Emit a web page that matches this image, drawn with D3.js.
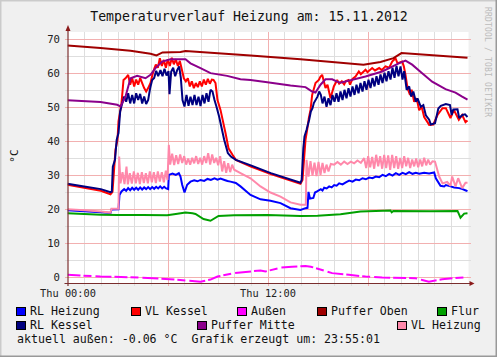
<!DOCTYPE html>
<html><head><meta charset="utf-8">
<script src="https://cdn.jsdelivr.net/npm/d3@7/dist/d3.min.js"></script>
<style>
body{margin:0;background:#F0F0F0}
svg{display:block}
text{font-family:"DejaVu Sans Mono",monospace;white-space:pre}
</style>
</head><body>
<svg id="c" width="497" height="357"></svg>
<script>
// ---------------- data ----------------
const title = "Temperaturverlauf Heizung am: 15.11.2012";
const yLabel = "°C";
const yTicks = [0, 10, 20, 30, 40, 50, 60, 70];
const xTickHours = [0, 12];
const xTickLabels = ["Thu 00:00", "Thu 12:00"];
const footer = "aktuell außen: -0.06 °C  Grafik erzeugt um: 23:55:01";
const watermark = "RRDTOOL / TOBI OETIKER";

const seriesNames = ["RL Heizung", "VL Kessel", "Außen", "Puffer Oben", "Flur", "RL Kessel", "Puffer Mitte", "VL Heizung"];

// [hour, °C]
const rlHeizung = [[0,19.6],[1,19.3],[2,19.0],[2.58,18.8],[2.64,19.8],[3.06,19.9],[3.12,24.1],[3.24,25.1],[3.4,25.8],[3.52,25.3],[3.64,26.1],[3.76,25.5],[3.88,26.2],[4.0,25.6],[4.12,26.2],[4.24,25.6],[4.36,26.3],[4.48,25.7],[4.6,26.3],[4.72,25.8],[4.84,26.4],[4.96,25.8],[5.08,26.4],[5.2,25.9],[5.32,26.5],[5.44,26.0],[5.56,26.6],[5.68,26.0],[5.8,26.5],[5.92,26.0],[6.04,25.8],[6.08,30.0],[6.3,30.4],[6.5,30.0],[6.68,30.5],[6.78,29.5],[6.88,27.1],[7.02,24.8],[7.18,27.1],[7.38,28.0],[7.6,28.4],[7.8,28.1],[7.98,28.5],[8.2,28.2],[8.4,28.8],[8.6,28.5],[8.82,29.0],[9.0,28.6],[9.18,28.9],[9.42,28.5],[9.6,28.2],[9.78,28.0],[10.1,27.6],[10.38,26.6],[10.98,24.1],[11.58,22.8],[12.18,22.4],[12.78,21.7],[13.38,20.2],[13.98,19.7],[14.28,20.2],[14.4,20.3],[14.46,25.0],[14.55,23.0],[14.75,23.2],[14.85,24.8],[15.0,25.2],[15.2,25.8],[15.3,25.4],[15.4,26.2],[15.55,26.0],[15.7,26.6],[15.85,26.3],[16.0,27.0],[16.15,26.8],[16.3,27.5],[16.5,27.2],[16.7,27.8],[16.9,28.3],[17.1,28.0],[17.3,28.6],[17.5,28.4],[17.7,29.0],[17.9,28.7],[18.1,29.2],[18.3,29.0],[18.5,29.5],[18.7,29.3],[18.9,30.0],[19.1,29.6],[19.3,30.3],[19.5,29.8],[19.7,30.5],[19.9,30.0],[20.1,30.6],[20.3,30.2],[20.5,30.8],[20.7,30.3],[20.9,30.6],[21.1,30.3],[21.4,30.6],[21.7,30.4],[22.0,30.7],[22.1,29.0],[22.38,26.8],[22.6,26.6],[22.7,27.0],[22.98,26.6],[23.2,26.3],[23.5,26.1],[23.7,25.8],[23.9,25.4],[24,25.2]];

const vlKessel = [[0,27.1],[1,26.2],[2,25.3],[2.58,24.3],[2.7,25.0],[2.88,37.4],[3.0,40.3],[3.06,45.7],[3.24,51.1],[3.36,57.9],[3.48,58.4],[3.64,59.4],[3.76,56.5],[3.88,58.5],[4.0,56.0],[4.12,58.0],[4.24,56.5],[4.36,58.5],[4.48,57.0],[4.6,55.5],[4.72,54.5],[4.84,55.5],[4.98,57.0],[5.1,59.5],[5.22,61.4],[5.3,62.4],[5.42,61.5],[5.54,64.3],[5.66,62.0],[5.78,63.8],[5.9,61.5],[6.02,64.0],[6.14,62.0],[6.26,64.4],[6.38,62.5],[6.5,64.0],[6.62,62.0],[6.74,63.5],[6.86,61.0],[6.98,58.4],[7.1,57.5],[7.22,58.4],[7.34,56.0],[7.46,57.5],[7.58,55.5],[7.7,57.0],[7.82,55.8],[7.94,57.5],[8.06,56.0],[8.18,58.0],[8.3,56.5],[8.42,58.2],[8.54,56.8],[8.66,58.0],[8.76,57.9],[8.88,57.0],[9.0,52.0],[9.18,49.1],[9.48,42.3],[9.66,37.8],[9.9,35.9],[10.1,34.4],[11,32.4],[12.2,30.2],[13.98,27.4],[14.1,28.5],[14.28,40.3],[14.38,43.2],[14.48,46.7],[14.58,49.1],[14.68,53.5],[14.88,57.0],[15.08,57.9],[15.18,58.9],[15.28,59.4],[15.48,55.5],[15.6,56.5],[15.78,52.5],[15.98,56.0],[16.18,57.9],[16.3,56.8],[16.46,57.5],[16.6,56.6],[16.7,57.6],[16.86,57.9],[16.95,56.5],[17.1,58.2],[17.28,58.9],[17.48,60.4],[17.6,59.6],[17.88,60.9],[18.0,60.2],[18.28,61.4],[18.45,60.7],[18.7,61.4],[18.85,60.8],[19.08,61.9],[19.3,61.5],[19.48,63.3],[19.68,64.3],[19.8,62.8],[19.9,63.0],[20.08,63.3],[20.18,61.9],[20.28,59.4],[20.4,55.5],[20.55,53.5],[20.65,55.0],[20.8,51.5],[20.95,52.5],[21.1,49.0],[21.25,50.0],[21.4,47.0],[21.6,45.5],[21.7,44.7],[21.95,44.8],[22.2,47.6],[22.5,49.6],[22.7,49.6],[22.98,46.7],[23.18,49.1],[23.48,46.2],[23.68,47.6],[23.88,45.5],[24,46.0]];

const aussen = [[0,0.6],[1.98,0.1],[3.78,-0.1],[5.88,-0.6],[7.98,-1.4],[8.58,-0.8],[9.0,0.1],[9.98,1.1],[11.58,1.9],[11.88,1.6],[12.78,2.7],[13.48,3.0],[14.28,3.2],[14.6,3.0],[15.88,1.1],[16.88,0.6],[17.88,0.1],[18.88,-0.2],[20.88,-0.4],[21.28,-0.9],[21.68,-1.4],[22.48,-0.7],[23.88,-0.1],[24,-0.1]];

const pufferOben = [[0,68.0],[1.98,67.3],[3.78,66.5],[4.98,65.6],[5.34,65.1],[5.7,66.0],[6.78,66.1],[7.08,66.4],[10.98,65.1],[13.98,64.0],[17.76,62.4],[18.78,63.2],[19.56,64.3],[20.04,65.8],[24,64.4]];

const flur = [[0,18.7],[1,18.5],[2,18.3],[3,18.2],[4.5,18.2],[5.98,18.1],[6.5,18.5],[7.08,18.9],[7.5,18.7],[7.68,18.5],[8.16,17.0],[8.58,16.5],[9.06,17.9],[10,18.1],[12,18.2],[13.98,17.9],[15,18.0],[16.38,18.4],[17.58,19.2],[19.38,19.5],[19.45,19.0],[19.55,19.4],[21.78,19.3],[23.4,19.4],[23.58,17.4],[23.8,18.6],[24,18.7]];

const rlKessel = [[0,27.4],[1,26.6],[2,25.8],[2.58,24.9],[2.66,25.1],[2.72,32.4],[2.85,34.4],[2.95,40.3],[3.06,42.3],[3.16,48.6],[3.26,50.6],[3.4,53.0],[3.52,51.5],[3.64,54.0],[3.76,51.0],[3.88,53.5],[4.0,51.0],[4.12,54.0],[4.24,52.0],[4.36,53.8],[4.48,51.0],[4.6,53.0],[4.72,50.8],[4.84,52.0],[4.96,55.5],[5.08,57.9],[5.2,58.5],[5.32,60.6],[5.44,59.0],[5.58,60.8],[5.7,59.0],[5.82,61.2],[5.94,59.2],[6.06,60.5],[6.12,53.7],[6.22,60.3],[6.34,61.5],[6.46,59.0],[6.58,60.8],[6.7,61.9],[6.8,58.5],[6.9,52.0],[7.02,50.1],[7.14,53.5],[7.26,50.3],[7.38,53.0],[7.5,50.5],[7.62,53.5],[7.74,50.5],[7.86,53.0],[7.98,50.2],[8.1,53.5],[8.22,51.0],[8.34,54.0],[8.46,51.5],[8.58,55.0],[8.7,54.5],[8.82,52.0],[8.94,50.0],[9.1,47.1],[9.4,40.3],[9.62,36.4],[9.8,35.4],[10.1,34.4],[11,32.8],[12.2,30.5],[13.98,27.7],[14.05,28.5],[14.15,37.8],[14.22,41.3],[14.34,43.2],[14.5,46.2],[14.6,48.6],[14.7,49.6],[14.78,51.1],[15.0,53.0],[15.1,54.5],[15.2,53.5],[15.3,51.0],[15.42,53.0],[15.54,50.0],[15.66,52.5],[15.78,50.5],[15.9,53.5],[16.02,51.5],[16.14,54.0],[16.26,51.5],[16.38,54.5],[16.5,52.0],[16.62,55.0],[16.74,52.5],[16.86,55.5],[16.98,53.0],[17.1,56.0],[17.22,53.5],[17.34,56.5],[17.46,54.0],[17.58,57.0],[17.7,54.5],[17.82,57.5],[17.94,55.0],[18.06,58.0],[18.18,55.5],[18.3,58.5],[18.42,56.0],[18.54,59.0],[18.66,56.5],[18.78,59.5],[18.9,57.0],[19.02,60.0],[19.14,57.5],[19.26,60.5],[19.38,58.0],[19.5,61.5],[19.62,58.5],[19.74,62.0],[19.86,59.0],[19.98,61.9],[20.1,58.0],[20.2,60.5],[20.35,55.0],[20.5,56.0],[20.62,53.0],[20.75,54.5],[20.9,51.5],[21.0,52.5],[21.2,50.0],[21.35,50.5],[21.5,47.5],[21.7,46.2],[21.8,44.8],[22.05,45.2],[22.25,49.5],[22.4,50.3],[22.7,50.8],[22.95,50.5],[23.05,47.6],[23.15,49.2],[23.4,49.3],[23.5,46.7],[23.7,47.6],[23.85,47.8],[24,47.0]];

const pufferMitte = [[0,51.9],[1.98,51.4],[2.98,50.6],[3.18,50.1],[3.48,53.0],[3.78,58.4],[4.18,59.1],[4.68,58.4],[4.98,59.4],[5.28,61.4],[5.68,63.3],[6.18,64.0],[7.08,64.0],[7.38,62.8],[7.98,61.4],[8.58,59.9],[9.58,59.1],[10.38,58.1],[10.98,57.9],[11.88,57.3],[13.38,56.3],[14.28,55.8],[14.68,54.5],[14.88,54.2],[15.18,56.5],[15.48,58.1],[15.88,58.1],[16.18,57.4],[16.38,57.1],[17.88,58.9],[18.88,60.4],[19.88,62.8],[20.28,63.6],[20.68,62.4],[21.28,59.9],[21.88,57.4],[22.68,55.2],[23.28,54.2],[23.68,53.0],[24,52.1]];

const vlHeizung = [[0,19.9],[1,19.6],[2,19.2],[2.58,18.9],[2.64,20.0],[3.06,20.0],[3.1,35.4],[3.18,27.5],[3.3,30.8],[3.42,27.3],[3.54,32.4],[3.62,27.2],[3.74,30.5],[3.86,27.4],[3.98,31.0],[4.1,27.5],[4.22,30.6],[4.34,27.3],[4.46,30.8],[4.58,27.6],[4.7,30.5],[4.82,27.5],[4.94,31.0],[5.06,27.8],[5.18,30.8],[5.3,27.6],[5.42,31.0],[5.54,28.0],[5.66,30.8],[5.78,27.8],[5.9,31.2],[6.0,28.5],[6.08,38.8],[6.16,33.0],[6.28,36.2],[6.4,32.9],[6.52,35.8],[6.64,33.2],[6.76,36.0],[6.88,33.5],[7.0,35.5],[7.12,33.0],[7.24,34.8],[7.36,33.0],[7.48,35.0],[7.6,33.4],[7.72,35.5],[7.84,33.2],[7.96,35.0],[8.08,33.0],[8.2,35.5],[8.32,33.5],[8.44,36.4],[8.56,33.0],[8.68,36.0],[8.8,33.5],[8.92,35.0],[9.04,32.8],[9.16,35.5],[9.28,31.0],[9.4,34.0],[9.52,30.6],[9.64,33.4],[9.76,30.8],[9.88,33.0],[10.0,31.5],[10.38,30.5],[10.98,29.0],[11.58,26.6],[12.18,24.8],[12.78,23.6],[13.38,21.9],[13.98,21.2],[14.3,21.2],[14.34,34.4],[14.46,29.5],[14.58,34.0],[14.7,29.8],[14.82,33.6],[14.94,29.6],[15.06,33.8],[15.18,30.0],[15.3,33.5],[15.42,30.5],[15.54,33.0],[15.66,31.0],[15.8,33.2],[16.0,33.0],[16.2,33.8],[16.4,33.0],[16.6,33.9],[16.8,33.2],[17.0,33.9],[17.2,33.4],[17.4,34.2],[17.6,33.5],[17.8,34.9],[17.92,32.0],[18.04,35.5],[18.16,32.2],[18.28,35.3],[18.4,31.8],[18.52,35.9],[18.64,32.5],[18.76,35.5],[18.88,31.8],[19.0,35.9],[19.12,32.0],[19.24,35.7],[19.36,31.5],[19.48,35.9],[19.6,32.0],[19.72,35.5],[19.84,31.8],[19.96,35.0],[20.08,32.0],[20.2,35.5],[20.32,32.5],[20.44,35.0],[20.56,32.0],[20.68,34.5],[20.8,32.5],[20.92,34.8],[21.04,32.2],[21.16,34.5],[21.28,32.5],[21.4,35.0],[21.52,32.8],[21.64,34.5],[21.76,33.0],[21.9,34.0],[22.05,33.9],[22.3,29.5],[22.5,27.5],[22.78,27.9],[22.98,26.8],[23.08,29.5],[23.28,26.6],[23.44,29.0],[23.68,26.1],[23.88,27.7],[24,27.7]];

// ---------------- styles / layout ----------------
const seriesData = [rlHeizung, vlKessel, aussen, pufferOben, flur, rlKessel, pufferMitte, vlHeizung];
const seriesColors = ["#0000FF", "#FF0000", "#FF00FF", "#A00000", "#00A000", "#000080", "#8B008B", "#FF88AA"];
const legendPos = [[16,307],[131,307],[237,307],[317,307],[437,307],[16,321],[197,321],[397,321]];

const W = 497, H = 357;
const L = 67.5, R = 467.5, T = 32, B = 283;
const svg = d3.select("#c");

// background + 3D frame
svg.append("rect").attr("x",0).attr("y",0).attr("width",W).attr("height",H).attr("fill","#F0F0F0");
svg.append("path").attr("d",`M0,${H}V0H${W}`).attr("fill","none").attr("stroke","#CBCBCB").attr("stroke-width",3);
svg.append("path").attr("d",`M0,${H}H${W}V0`).attr("fill","none").attr("stroke","#999999").attr("stroke-width",3);

const x = d3.scaleLinear().domain([0,24]).range([L,R]);
const y = d3.scaleLinear().domain([-1.8,72]).range([B,T]);

// plot canvas
svg.append("rect").attr("x",L).attr("y",T).attr("width",R-L+1).attr("height",B-T).attr("fill","#FFFFFF");

const g = svg.append("g").attr("shape-rendering","crispEdges");
// minor grid
const minorH = d3.range(1,24).filter(h=>h%6!==0);
g.selectAll(".vmin").data(minorH).join("line")
  .attr("x1",d=>Math.round(x(d))+0.5).attr("x2",d=>Math.round(x(d))+0.5)
  .attr("y1",T).attr("y2",B+3).attr("stroke","#DEDEDE");
const minorV = d3.range(5,72,10);
g.selectAll(".hmin").data(minorV).join("line")
  .attr("y1",d=>Math.round(y(d))+0.5).attr("y2",d=>Math.round(y(d))+0.5)
  .attr("x1",L-3).attr("x2",R+3).attr("stroke","#DEDEDE");
// major grid
const majorH = [6,12,18];
g.selectAll(".vmaj").data(majorH).join("line")
  .attr("x1",d=>Math.round(x(d))+0.5).attr("x2",d=>Math.round(x(d))+0.5)
  .attr("y1",T).attr("y2",B+3).attr("stroke","#F2B0B0");
g.selectAll(".hmaj").data(yTicks).join("line")
  .attr("y1",d=>Math.round(y(d))+0.5).attr("y2",d=>Math.round(y(d))+0.5)
  .attr("x1",L-3).attr("x2",R+3).attr("stroke","#F2B0B0");

// y tick labels
svg.selectAll(".yl").data(yTicks).join("text")
  .attr("x",60).attr("y",d=>y(d)+4).attr("text-anchor","end")
  .attr("font-size","10.6px").attr("fill","#222").text(d=>d);
// x tick labels
svg.selectAll(".xl").data(xTickHours).join("text")
  .attr("x",d=>x(d)+0.5).attr("y",297).attr("text-anchor","middle")
  .attr("font-size","10.3px").attr("fill","#222").text((d,i)=>xTickLabels[i]);

// series
const clip = svg.append("clipPath").attr("id","pc").append("rect")
  .attr("x",L).attr("y",T).attr("width",R-L+1).attr("height",B-T);
const line = d3.line().x(d=>x(d[0])).y(d=>y(d[1])).defined(d=>d[1]!=null);
const lg = svg.append("g").attr("clip-path","url(#pc)");
seriesData.forEach((s,i)=>{
  lg.append("path").attr("d",line(s)).attr("fill","none")
    .attr("stroke",seriesColors[i]).attr("stroke-width",2)
    .attr("stroke-linejoin","miter").attr("stroke-miterlimit",2)
    .attr("stroke-dasharray", i===2 ? "13,3,8,4,16,3" : null);
});

// axes
const axisCol = "#7A2E2E";
svg.append("line").attr("x1",L-3).attr("x2",R+3).attr("y1",B+0.5).attr("y2",B+0.5).attr("stroke",axisCol).attr("stroke-width",1.2);
svg.append("line").attr("x1",L+0.5).attr("x2",L+0.5).attr("y1",B+3).attr("y2",T-2).attr("stroke",axisCol).attr("stroke-width",1.2);
svg.append("path").attr("d",`M${R+2},${B-2} L${R+7},${B+0.5} L${R+2},${B+3} Z`).attr("fill","#8B1A1A");
svg.append("path").attr("d",`M${L-2},${T-1} L${L+0.5},${T-7} L${L+3},${T-1} Z`).attr("fill","#8B1A1A");

// title
svg.append("text").attr("x",249).attr("y",21).attr("text-anchor","middle")
  .attr("font-size","13.2px").attr("fill","#111").text(title);
// y label
svg.append("text").attr("transform","translate(18,156) rotate(-90)").attr("text-anchor","middle")
  .attr("font-size","11px").attr("fill","#111").text(yLabel);
// watermark
svg.append("text").attr("transform","translate(485,7) rotate(90)")
  .attr("font-size","8px").attr("fill","#BBBBBB").attr("textLength",110).attr("lengthAdjust","spacing")
  .text(watermark);

// legend
seriesNames.forEach((n,i)=>{
  const [lx,ly] = legendPos[i];
  svg.append("rect").attr("x",lx+0.5).attr("y",ly+0.5).attr("width",9).attr("height",8)
    .attr("fill",seriesColors[i]).attr("stroke","#000").attr("stroke-width",1).attr("shape-rendering","crispEdges");
  svg.append("text").attr("x",lx+14).attr("y",ly+8).attr("font-size","11.6px").attr("fill","#111").text(n);
});
svg.append("text").attr("x",17).attr("y",342.5).attr("font-size","11.6px").attr("fill","#111")
  .attr("xml:space","preserve").text(footer);
</script>
</body></html>
